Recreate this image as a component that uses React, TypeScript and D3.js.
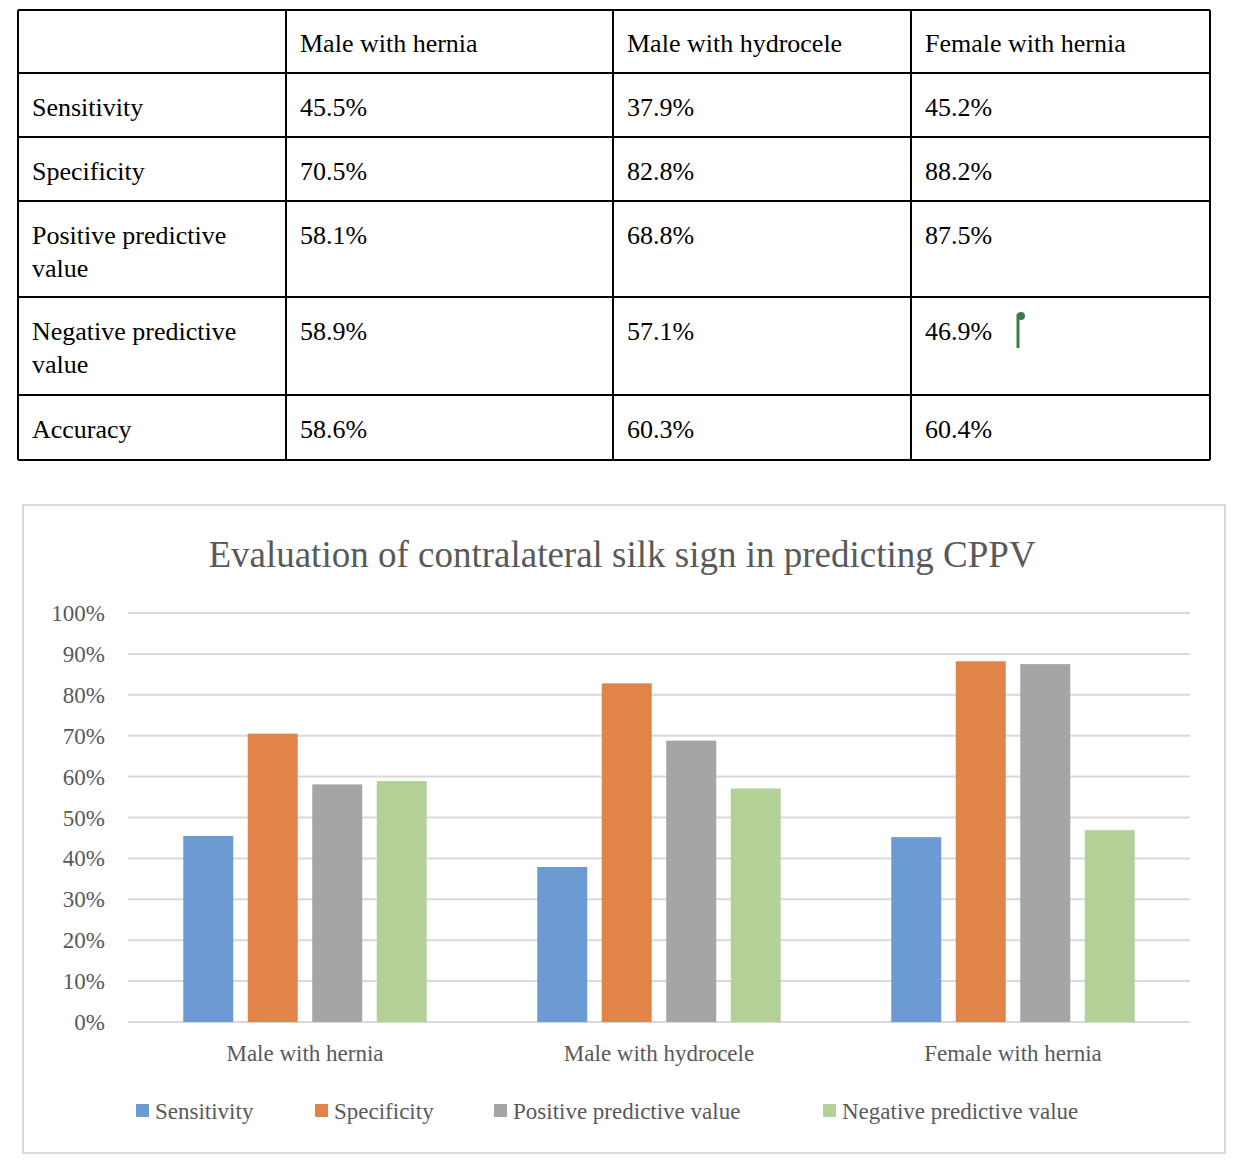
import React from 'react';
import * as d3 from 'd3';

const groups = ['Male with hernia', 'Male with hydrocele', 'Female with hernia'];
const metrics = ['Sensitivity', 'Specificity', 'Positive predictive value', 'Negative predictive value', 'Accuracy'];
const tableRowLabels = [['Sensitivity'], ['Specificity'], ['Positive predictive', 'value'], ['Negative predictive', 'value'], ['Accuracy']];
const maleHernia = [45.5, 70.5, 58.1, 58.9, 58.6];
const maleHydrocele = [37.9, 82.8, 68.8, 57.1, 60.3];
const femaleHernia = [45.2, 88.2, 87.5, 46.9, 60.4];
const chartSeries = metrics.slice(0, 4);
const colors = ['#6b9bd2', '#e0844a', '#a5a5a5', '#b3d197'];
const yTicks = [0, 10, 20, 30, 40, 50, 60, 70, 80, 90, 100];

const serif = '"Liberation Serif", "Times New Roman", serif';

const App: React.FC = () => {
    const values = [maleHernia, maleHydrocele, femaleHernia];
    const colX = [18, 286, 613, 911, 1210];
    const rowY = [10, 73, 137, 201, 297, 395, 460];

    const y = d3.scaleLinear().domain([0, 100]).range([1022, 613]);
    const x0 = d3.scaleBand().domain(groups).range([128, 1190]);
    const x1 = d3.scaleBand().domain(chartSeries).range([0, x0.bandwidth()])
        .paddingInner(0.225).paddingOuter(0.857);

    const legendX = [136, 315, 494, 823];

    return (
        <svg width={1242} height={1170} style={{ position: 'absolute', left: 0, top: 0 }}>
            <rect width={1242} height={1170} fill="#fff" />
            {/* table */}
            <g fontFamily={serif} fontSize={26} fill="#000">
                {rowY.map((ry, i) => (
                    <line key={'h' + i} x1={colX[0]} x2={colX[4]} y1={ry} y2={ry} stroke="#000" strokeWidth={2} />
                ))}
                {colX.map((cx, i) => (
                    <line key={'v' + i} x1={cx} x2={cx} y1={rowY[0]} y2={rowY[6]} stroke="#000" strokeWidth={2} />
                ))}
                {groups.map((g, i) => (
                    <text key={g} x={colX[i + 1] + 14} y={52}>{g}</text>
                ))}
                {tableRowLabels.map((lines, r) => (
                    <g key={r}>
                        {lines.map((l, k) => (
                            <text key={k} x={32} y={rowY[r + 1] + 43 + k * 33}>{l}</text>
                        ))}
                        {values.map((vals, c) => (
                            <text key={c} x={colX[c + 1] + 14} y={rowY[r + 1] + 43}>{vals[r].toFixed(1)}%</text>
                        ))}
                    </g>
                ))}
                <line x1={1018} x2={1018} y1={314} y2={348} stroke="#3e7a45" strokeWidth={3} />
                <circle cx={1021} cy={316} r={4} fill="#3e7a45" />
            </g>
            {/* chart */}
            <rect x={23} y={505} width={1202} height={648} fill="#fff" stroke="#d9d9d9" strokeWidth={2} />
            <text x={622} y={567} textAnchor="middle" fontFamily={serif} fontSize={37} fill="#595959">
                Evaluation  of contralateral  silk sign  in predicting  CPPV
            </text>
            <g fontFamily={serif} fontSize={23} fill="#595959">
                {yTicks.map(t => (
                    <g key={t}>
                        <line x1={128} x2={1190} y1={y(t)} y2={y(t)} stroke="#d9d9d9" strokeWidth={2} />
                        <text x={105} y={y(t) + 8} textAnchor="end">{t}%</text>
                    </g>
                ))}
                {groups.map((g, gi) => (
                    <g key={g} transform={`translate(${x0(g)},0)`}>
                        {chartSeries.map((s, si) => (
                            <rect key={s} x={x1(s)} y={y(values[gi][si])} width={x1.bandwidth()}
                                height={y(0) - y(values[gi][si])} fill={colors[si]} />
                        ))}
                        <text x={x0.bandwidth() / 2} y={1061} textAnchor="middle">{g}</text>
                    </g>
                ))}
                {chartSeries.map((s, i) => (
                    <g key={s}>
                        <rect x={legendX[i]} y={1104} width={13} height={13} fill={colors[i]} />
                        <text x={legendX[i] + 19} y={1119}>{s}</text>
                    </g>
                ))}
            </g>
        </svg>
    );
};

export default App;
